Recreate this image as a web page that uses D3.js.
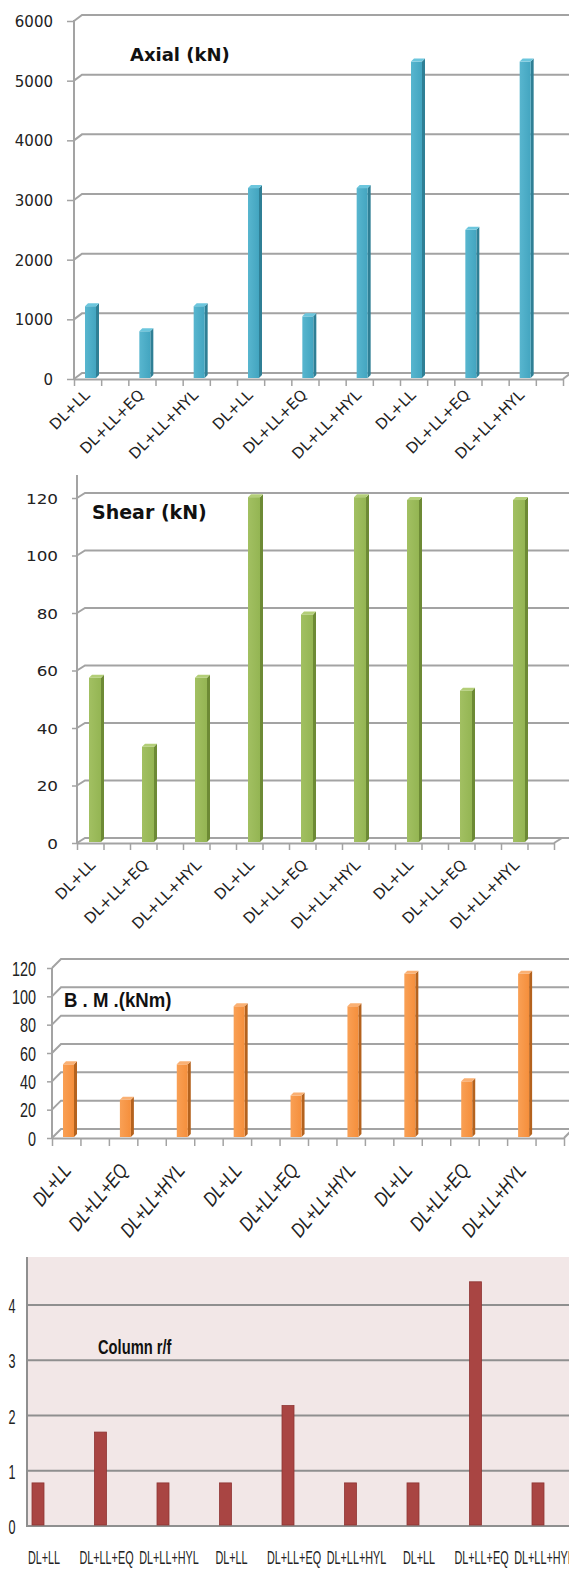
<!DOCTYPE html>
<html>
<head>
<meta charset="utf-8">
<script src="https://cdn.jsdelivr.net/npm/d3@7"></script>
<style>
  html, body { margin: 0; padding: 0; background: #ffffff; }
  svg { display: block; }
</style>
</head>
<body>
<script>
// ---------------- DATA ----------------
const categories = ["DL+LL", "DL+LL+EQ", "DL+LL+HYL", "DL+LL", "DL+LL+EQ", "DL+LL+HYL", "DL+LL", "DL+LL+EQ", "DL+LL+HYL"];
const axialValues = [1220, 800, 1220, 3200, 1050, 3200, 5320, 2500, 5320];
const shearValues = [57.5, 33.5, 57.5, 120.3, 79.5, 120.3, 119.3, 53, 119.3];
const bmValues = [52, 27, 52, 93, 30, 93, 116, 40, 116];
const rfValues = [0.78, 1.70, 0.78, 0.78, 2.18, 0.78, 0.78, 4.42, 0.78];
const axialTicks = [0, 1000, 2000, 3000, 4000, 5000, 6000];
const shearTicks = [0, 20, 40, 60, 80, 100, 120];
const bmTicks = [0, 20, 40, 60, 80, 100, 120];
const rfTicks = [0, 1, 2, 3, 4];
const titles = ["Axial (kN)", "Shear (kN)", "B . M .(kNm)", "Column r/f"];

// ---------------- SETUP ----------------
const W = 569, H = 1569;
const svg = d3.select("body").append("svg").attr("width", W).attr("height", H);
const idx = d3.range(categories.length);
const GRID = "#a3a3a3";

function chart3D(o) {
  const g = svg.append("g");
  const x = d3.scaleBand().domain(idx).range(o.xr).paddingInner(0).paddingOuter(0);
  const y = d3.scaleLinear().domain(o.dom).range(o.yr);
  const bw = x.bandwidth();
  const y0 = y(0);
  const ax0 = o.xr[0];

  // back-wall gridlines with oblique connector
  g.selectAll("path.grid").data(o.ticks).join("path")
    .attr("class", "grid")
    .attr("d", t => `M${ax0},${y(t)} L${ax0 + o.dx},${y(t) + o.dy} L${W},${y(t) + o.dy}`)
    .attr("fill", "none").attr("stroke", GRID).attr("stroke-width", 2);

  // y axis
  const yAxis = d3.axisLeft(y).tickValues(o.ticks).tickSize(o.tickLen).tickSizeOuter(0).tickFormat(d3.format("d"));
  const ya = g.append("g").attr("transform", `translate(${ax0},0)`).call(yAxis);
  ya.select(".domain").remove();
  ya.selectAll(".tick line").attr("stroke", GRID).attr("stroke-width", 1.5);
  ya.selectAll(".tick text")
    .attr("x", -o.labelGap / o.tsx)
    .attr("dy", "0.36em")
    .attr("transform", `scale(${o.tsx},1)`)
    .style("font-family", o.tickFont)
    .style("font-size", o.tickSize + "px")
    .attr("fill", "#222");
  g.append("line").attr("x1", ax0).attr("x2", ax0).attr("y1", o.axisTop).attr("y2", y0 + 1)
    .attr("stroke", GRID).attr("stroke-width", 2);

  // floor front edge + category ticks
  const tickScale = d3.scaleLinear().domain([0, categories.length * 2]).range(o.xr);
  const xAxis = d3.axisBottom(tickScale).tickValues(d3.range(categories.length * 2 + 1)).tickSize(o.xTickLen).tickSizeOuter(0).tickFormat("");
  const xa = g.append("g").attr("transform", `translate(0,${y0})`).call(xAxis);
  xa.select(".domain").attr("stroke", GRID).attr("stroke-width", 2);
  xa.selectAll(".tick line").attr("stroke", GRID).attr("stroke-width", 1.5);
  g.append("line").attr("x1", o.xr[1]).attr("y1", y0).attr("x2", o.xr[1] + o.dx).attr("y2", y0 + o.dy)
    .attr("stroke", GRID).attr("stroke-width", 2);

  // bars
  const d = o.depth, w = o.barW;
  const bars = g.selectAll("g.bar").data(o.values).join("g").attr("class", "bar");
  bars.append("path")
    .attr("d", (v, i) => { const bx = x(i) + o.barOff, top = y(v), bot = y0 - 1;
      return `M${bx + w},${top} L${bx + w + d},${top - d} L${bx + w + d},${bot - d} L${bx + w},${bot} Z`; })
    .attr("fill", o.side);
  bars.append("rect")
    .attr("x", (v, i) => x(i) + o.barOff).attr("y", v => y(v))
    .attr("width", w).attr("height", v => y0 - 1 - y(v))
    .attr("fill", `url(#${o.gradId})`);
  bars.append("path")
    .attr("d", (v, i) => { const bx = x(i) + o.barOff, top = y(v);
      return `M${bx},${top} L${bx + d},${top - d} L${bx + w + d},${top - d} L${bx + w},${top} Z`; })
    .attr("fill", o.topc);

  // category labels (rotated)
  g.selectAll("text.cat").data(categories).join("text")
    .attr("class", "cat")
    .attr("transform", (c, i) => `translate(${x(i) + bw / 4 + o.labDx},${y0 + o.labDy}) rotate(${o.labRot}) scale(${o.labSx},1)`)
    .attr("text-anchor", "end")
    .style("font-family", o.labFont)
    .style("font-size", o.labSize + "px")
    .style("font-style", o.labItalic ? "italic" : "normal")
    .attr("fill", "#222")
    .text(c => c);

  // title
  g.append("text")
    .attr("transform", `translate(${o.titleX},${o.titleY}) scale(${o.titleSx},1)`)
    .style("font-family", o.titleFont)
    .style("font-size", o.titleSize + "px")
    .style("font-weight", "bold")
    .attr("fill", "#111")
    .text(o.title);
}

// gradients for bar fronts
const defs = svg.append("defs");
function grad(id, c1, c2) {
  const lg = defs.append("linearGradient").attr("id", id).attr("x1", "0").attr("x2", "1").attr("y1", "0").attr("y2", "0");
  lg.append("stop").attr("offset", "0").attr("stop-color", c1);
  lg.append("stop").attr("offset", "1").attr("stop-color", c2);
}
grad("gBlue", "#58b6cf", "#43a5c0");
grad("gGreen", "#a2c062", "#94b553");
grad("gOrange", "#f9a055", "#f58f3c");

// Chart 1 - Axial
chart3D({
  values: axialValues, ticks: axialTicks, dom: [0, 6000], yr: [379, 21], xr: [74, 563],
  dx: 8, dy: -6, axisTop: 20, tickLen: 7, labelGap: 21, tsx: 1.0,
  tickFont: "DejaVu Sans", tickSize: 15, xTickLen: 7,
  barOff: 11, barW: 11, depth: 3, side: "#2f7f95", topc: "#6cc6dd", gradId: "gBlue",
  labDx: 3, labDy: 17, labRot: -45, labSx: 1, labFont: "DejaVu Sans", labSize: 15, labItalic: false,
  title: titles[0], titleX: 130, titleY: 61, titleSx: 1, titleFont: "DejaVu Sans", titleSize: 18
});

// Chart 2 - Shear
chart3D({
  values: shearValues, ticks: shearTicks, dom: [0, 120], yr: [843, 498], xr: [77, 554],
  dx: 8, dy: -5, axisTop: 475, tickLen: 5, labelGap: 19, tsx: 1.2,
  tickFont: "DejaVu Sans", tickSize: 14, xTickLen: 7,
  barOff: 12, barW: 12, depth: 3, side: "#6d8a35", topc: "#b3ce78", gradId: "gGreen",
  labDx: 6, labDy: 23, labRot: -45, labSx: 1, labFont: "DejaVu Sans", labSize: 15, labItalic: false,
  title: titles[1], titleX: 92, titleY: 519, titleSx: 1, titleFont: "DejaVu Sans", titleSize: 19
});

// Chart 3 - Bending moment
chart3D({
  values: bmValues, ticks: bmTicks, dom: [0, 120], yr: [1138, 968], xr: [52, 564],
  dx: 9, dy: -9, axisTop: 968, tickLen: 5, labelGap: 16, tsx: 0.72,
  tickFont: "Liberation Sans", tickSize: 20, xTickLen: 8,
  barOff: 11, barW: 11, depth: 3, side: "#b4621e", topc: "#fab073", gradId: "gOrange",
  labDx: 6, labDy: 33, labRot: -50, labSx: 0.8, labFont: "Liberation Sans", labSize: 20, labItalic: true,
  title: titles[2], titleX: 64, titleY: 1007, titleSx: 0.93, titleFont: "Liberation Sans", titleSize: 20
});

// Chart 4 - Column r/f (flat)
(function () {
  const g = svg.append("g");
  const x = d3.scaleBand().domain(idx).range([27, 589.5]).paddingInner(0).paddingOuter(0);
  const y = d3.scaleLinear().domain([0, 4]).range([1526, 1305]);
  const y0 = y(0);
  g.append("rect").attr("x", 27).attr("y", 1257).attr("width", W - 27).attr("height", y0 - 1257).attr("fill", "#f2e7e7");
  g.selectAll("line.grid").data(rfTicks.filter(t => t > 0)).join("line")
    .attr("class", "grid")
    .attr("x1", 27).attr("x2", W).attr("y1", t => y(t)).attr("y2", t => y(t))
    .attr("stroke", "#8f8f8f").attr("stroke-width", 2);
  const ya = g.append("g").attr("transform", "translate(27,0)")
    .call(d3.axisLeft(y).tickValues(rfTicks).tickSize(0).tickSizeOuter(0).tickFormat(d3.format("d")));
  ya.select(".domain").remove();
  ya.selectAll(".tick text")
    .attr("x", -15 / 0.6).attr("dy", "0.36em").attr("text-anchor", "middle")
    .attr("transform", "scale(0.6,1)")
    .style("font-family", "Liberation Sans").style("font-size", "21px").attr("fill", "#222");
  g.append("line").attr("x1", 27).attr("x2", 27).attr("y1", 1257).attr("y2", y0 + 1)
    .attr("stroke", "#8f8f8f").attr("stroke-width", 2);
  g.append("line").attr("x1", 27).attr("x2", W).attr("y1", y0).attr("y2", y0)
    .attr("stroke", "#8f8f8f").attr("stroke-width", 2);
  g.selectAll("rect.bar").data(rfValues).join("rect")
    .attr("class", "bar")
    .attr("x", (v, i) => x(i) + 5).attr("y", v => y(v))
    .attr("width", 12).attr("height", v => y0 - 1 - y(v))
    .attr("fill", "#a94543").attr("stroke", "#8e3533").attr("stroke-width", 0.8);
  g.selectAll("text.cat").data(categories).join("text")
    .attr("class", "cat")
    .attr("transform", (c, i) => `translate(${x(i) + 17},1564) scale(0.57,1)`)
    .attr("text-anchor", "middle")
    .style("font-family", "Liberation Sans").style("font-size", "19px").attr("fill", "#222")
    .text(c => c);
  g.append("text")
    .attr("transform", "translate(98,1354) scale(0.7,1)")
    .style("font-family", "Liberation Sans").style("font-size", "21px").style("font-weight", "bold")
    .attr("fill", "#111").text(titles[3]);
})();
</script>
</body>
</html>
